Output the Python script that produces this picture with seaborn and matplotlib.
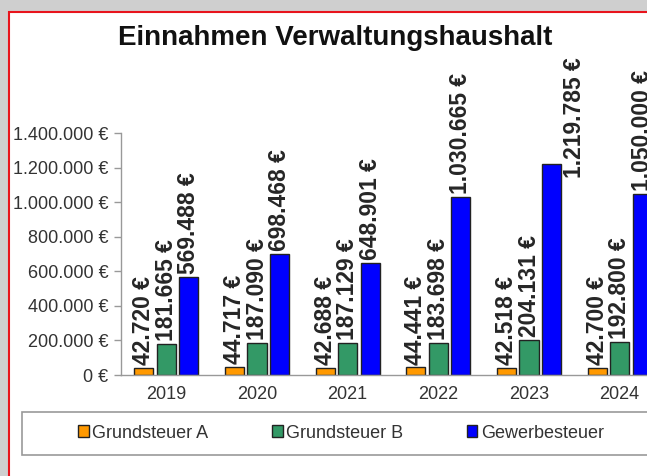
import matplotlib
matplotlib.use("Agg")
import matplotlib.pyplot as plt
import matplotlib.transforms as mtransforms
from matplotlib.patches import Patch, Rectangle
import pandas as pd
import seaborn as sns

# data
years = ["2019", "2020", "2021", "2022", "2023", "2024"]
grundsteuer_a = [42720, 44717, 42688, 44441, 42518, 42700]
grundsteuer_b = [181665, 187090, 187129, 183698, 204131, 192800]
gewerbesteuer = [569488, 698468, 648901, 1030665, 1219785, 1050000]
series_names = ["Grundsteuer A", "Grundsteuer B", "Gewerbesteuer"]
colors = ["#FF9900", "#339966", "#0000FF"]
yticks = [0, 200000, 400000, 600000, 800000, 1000000, 1200000, 1400000]


def euro(v):
    return f"{v:,}".replace(",", ".") + " €"


rows = []
for name, vals in zip(series_names, [grundsteuer_a, grundsteuer_b, gewerbesteuer]):
    for y, v in zip(years, vals):
        rows.append({"Jahr": y, "Betrag": v, "Art": name})
df = pd.DataFrame(rows)

sns.set_theme(style="white")
plt.rcParams["font.family"] = ["Liberation Sans", "DejaVu Sans"]

W, H = 647, 476
fig = plt.figure(figsize=(W / 100, H / 100), dpi=100)
fig.patch.set_facecolor("#cfcfcf")

# white chart area with red border (right/bottom edges cut off like the screenshot)
fig.patches.append(Rectangle((9 / W, -0.05), 1.1, 1 - 12 / H + 0.05, transform=fig.transFigure,
                             facecolor="white", edgecolor="#e8141c", linewidth=1.5, zorder=-5))

ax = fig.add_axes([121 / W, 101 / H, 544 / W, 242 / H])
ax.set_facecolor("none")

sns.barplot(data=df, x="Jahr", y="Betrag", hue="Art", palette=colors, saturation=1,
            width=0.745, gap=0.15, edgecolor="#222222", linewidth=1, ax=ax, legend=False)

# value labels
blend = mtransforms.blended_transform_factory(ax.transData, fig.transFigure)
for cont in ax.containers:
    for bar in cont:
        v = bar.get_height()
        if v > 1150000:
            # too tall for the chart area: pushed to the side of the bar
            ax.annotate(euro(int(round(v))), xy=(bar.get_x() + bar.get_width(), 1 - 57 / H),
                        xycoords=blend, xytext=(10, 0), textcoords="offset points",
                        rotation=90, ha="center", va="top", fontsize=16.5, fontweight="bold",
                        annotation_clip=False)
        else:
            ax.annotate(euro(int(round(v))), xy=(bar.get_x() + bar.get_width() / 2, v),
                        xytext=(0, 2), textcoords="offset points", rotation=90,
                        ha="center", va="bottom", fontsize=16.5, fontweight="bold",
                        annotation_clip=False)

ax.set_ylim(0, 1400000)
ax.set_xlim(-0.5, 5.5)
ax.set_yticks(yticks)
ax.set_yticklabels([euro(t) for t in yticks])
ax.set_xticks(range(len(years)))
ax.set_xticklabels(years)
ax.set_xticks([i - 0.5 for i in range(len(years) + 1)], minor=True)
ax.tick_params(axis="x", which="major", length=0, pad=8, labelsize=13, colors="#333333")
ax.tick_params(axis="x", which="minor", length=5, width=1, color="#999999", direction="out")
ax.tick_params(axis="y", length=5, width=1, color="#999999", direction="out", pad=4,
               labelsize=13, labelcolor="#333333", left=True)
ax.set_xlabel("")
ax.set_ylabel("")
for s in ["top", "right"]:
    ax.spines[s].set_visible(False)
for s in ["left", "bottom"]:
    ax.spines[s].set_color("#999999")
    ax.spines[s].set_linewidth(1)

fig.text(335.5 / W, 1 - 38 / H, "Einnahmen Verwaltungshaushalt", ha="center", va="center",
         fontsize=20, fontweight="bold", color="#111111")

# legend with a wide frame
fig.patches.append(Rectangle((22 / W, 1 - 455 / H), 640 / W, 43 / H, transform=fig.transFigure,
                             facecolor="white", edgecolor="#999999", linewidth=1.2, zorder=-1))
handles = [Patch(facecolor=c, edgecolor="#222222", linewidth=1) for c in colors]
leg = fig.legend(handles, series_names, loc="center", bbox_to_anchor=(341 / W, 1 - 433 / H),
                 ncol=3, frameon=False, fontsize=13, handlelength=0.6, handleheight=0.6,
                 handletextpad=0.2, columnspacing=3.5)
for t in leg.get_texts():
    t.set_color("#333333")

fig.savefig("out.png", dpi=100, facecolor=fig.get_facecolor())
